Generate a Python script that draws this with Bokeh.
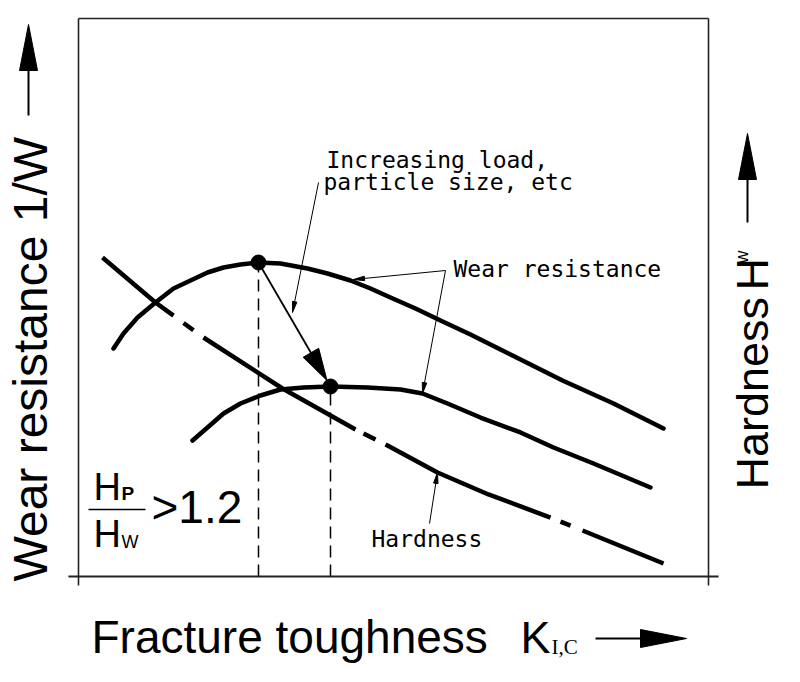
import numpy as np
from bokeh.plotting import figure
from bokeh.models import Range1d
from bokeh.core.properties import value
from bokeh.embed import file_html
from bokeh.resources import INLINE

# ---------------- data (schematic units: box spans 0..100 on both axes) -------------
wear_hi_x = [5.56, 7.14, 9.37, 12.22, 15.08, 17.78, 20.48, 23.02, 25.71, 28.57, 32.06, 36.35,
             39.52, 43.17, 46.35, 49.52, 53.49, 57.46, 62.22, 66.98, 71.75, 76.83, 84.92, 92.86]
wear_hi_y = [40.86, 43.55, 46.42, 49.10, 51.61, 53.05, 54.48, 55.38, 55.91, 56.27, 56.09, 55.20,
             54.30, 53.05, 51.61, 50.00, 48.03, 45.88, 43.37, 40.68, 37.99, 35.13, 31.00, 26.52]
wear_lo_x = [18.10, 20.48, 23.02, 25.71, 28.89, 32.06, 35.71, 40.00, 45.87, 51.11, 54.60,
             58.57, 63.81, 70.16, 75.40, 81.75, 90.79]
wear_lo_y = [24.37, 26.70, 29.21, 31.00, 32.44, 33.51, 33.87, 34.05, 33.87, 33.51, 32.80,
             31.00, 28.49, 25.81, 23.12, 20.25, 15.95]
hard_x = [3.81, 12.22, 19.84, 32.38, 43.97, 49.05, 56.98, 65.08, 74.92, 92.86]
hard_y = [57.17, 49.10, 42.83, 33.69, 26.34, 23.48, 18.64, 14.70, 10.57, 2.33]
# x-intervals where the (dash-dot) hardness line is drawn
hard_solid = [(3.81, 15.08), (16.67, 18.25), (19.84, 43.97), (45.24, 47.14),
              (48.73, 74.92), (76.51, 78.10), (80.00, 92.86)]
# optimum points (maxima of the two wear-resistance curves)
opt_x = [28.57, 40.00]
opt_y = [56.27, 34.05]

# box / axes extents
box_x = [0, 100]
box_y = [0, 100]

# labels
y_label = "Wear resistance 1/W"
y2_label = "Hardness"
y2_sym, y2_sub = "H", "w"
x_label = "Fracture toughness"
x_sym, x_sub = "K", "I,C"
ann_increase = ["Increasing load,", "particle size, etc"]
ann_wear = "Wear resistance"
ann_hard = "Hardness"
ratio_top, ratio_top_sub = "H", "P"
ratio_bot, ratio_bot_sub = "H", "W"
ratio_val = ">1.2"

# ---------------- layout helpers -------------------------------------------------
W, H = 800, 682
SX, SY = 6.3, 5.58           # pixels per unit
LEFT_PX, BOTTOM_PX = 78, 106  # offset of the box origin in the canvas
BASE_K = 0.35                 # baseline correction (fraction of font size)


def px(v):   # pixel offset -> x units
    return v / SX


def py(v):
    return v / SY


p = figure(width=W, height=H, output_backend="svg", toolbar_location=None,
           x_range=Range1d(-LEFT_PX / SX, (W - LEFT_PX) / SX),
           y_range=Range1d(-BOTTOM_PX / SY, (H - BOTTOM_PX) / SY),
           min_border=0, x_axis_location=None, y_axis_location=None,
           outline_line_color=None, background_fill_color="white",
           border_fill_color="white")
p.grid.visible = False

ink = "#000000"
frame_col = "#222222"

# box
ov = 1.6
p.line([box_x[0], box_x[1]], [box_y[1], box_y[1]], line_color=frame_col, line_width=1.6)
p.line([box_x[0], box_x[0]], [box_y[0] - ov, box_y[1]], line_color=frame_col, line_width=1.6)
p.line([box_x[1], box_x[1]], [box_y[0] - ov, box_y[1]], line_color=frame_col, line_width=1.6)
p.line([box_x[0] - ov, box_x[1] + ov], [box_y[0], box_y[0]], line_color=frame_col, line_width=2)

# dashed verticals from optimum points
p.segment(x0=opt_x, y0=[box_y[0]] * 2, x1=opt_x, y1=opt_y, line_color=ink,
          line_width=1.5, line_dash="12 7")

# wear resistance curves
p.line(wear_hi_x, wear_hi_y, line_color=ink, line_width=4.5, line_cap="round", line_join="round")
p.line(wear_lo_x, wear_lo_y, line_color=ink, line_width=4.5, line_cap="round", line_join="round")

# hardness dash-dot line
hx, hy = [], []
for a, b in hard_solid:
    xs = [a] + [x for x in hard_x if a < x < b] + [b]
    hx.append(xs)
    hy.append(list(np.interp(xs, hard_x, hard_y)))
p.multi_line(hx, hy, line_color=ink, line_width=4.5, line_cap="butt", line_join="round")

# optimum dots
p.scatter(opt_x, opt_y, size=15, color=ink)


def arrow_parts(x0, y0, x1, y1, head_len, head_w, shorten=0.0):
    dx, dy = (x1 - x0) * SX, (y1 - y0) * SY
    n = np.hypot(dx, dy)
    ux, uy = dx / n, dy / n
    tx, ty = x1 * SX - ux * shorten, y1 * SY - uy * shorten
    bx, by = tx - ux * head_len, ty - uy * head_len
    nx, ny = -uy, ux
    tri_x = [tx / SX, (bx + nx * head_w / 2) / SX, (bx - nx * head_w / 2) / SX]
    tri_y = [ty / SY, (by + ny * head_w / 2) / SY, (by - ny * head_w / 2) / SY]
    return [x0, bx / SX], [y0, by / SY], tri_x, tri_y


def draw_arrows(specs, lw, head_len, head_w, shorten=0.0):
    sx, sy, tx, ty = [], [], [], []
    for (x0, y0, x1, y1) in specs:
        a, b, c, d = arrow_parts(x0, y0, x1, y1, head_len, head_w, shorten)
        sx.append(a); sy.append(b); tx.append(c); ty.append(d)
    p.multi_line(sx, sy, line_color=ink, line_width=lw)
    p.patches(tx, ty, fill_color=ink, line_color=ink, line_width=1)


# shift of the optimum
draw_arrows([(opt_x[0], opt_y[0], opt_x[1], opt_y[1])], 1.8, 32, 18, shorten=7)

# axis direction arrows
draw_arrows([(px(28 - 78), py(576 - 115), px(28 - 78), py(576 - 24)),
             (px(747 - 78), py(576 - 222), px(747 - 78), py(576 - 133)),
             (px(595 - 78), py(576 - 638), px(686 - 78), py(576 - 638))],
            2, 46, 18)

# leader lines
wear_tag = (px(445 - 78), py(576 - 270))
draw_arrows([(px(318 - 78), py(576 - 182), px(292 - 78), py(576 - 312)),
             (wear_tag[0], wear_tag[1], px(353 - 78), py(576 - 279)),
             (wear_tag[0], wear_tag[1], px(422 - 78), py(576 - 393)),
             (px(429 - 78), py(576 - 523), px(437 - 78), py(576 - 472))],
            1, 11, 4.5)

big = value("Liberation Sans")
mono = value("DejaVu Sans Mono")


def txt(x, y, s, size, font=big, angle=0.0, style="normal"):
    # x, y: page pixel position of the text baseline start
    shift = BASE_K * size
    if angle == 0.0:
        xx, yy = px(x - LEFT_PX), py(576 - y + shift)
    else:
        xx, yy = px(x - LEFT_PX - shift), py(576 - y)
    p.text(x=[xx], y=[yy], text=[s], text_font=font, text_font_size=f"{size}px",
           angle=angle, text_baseline="alphabetic", text_align="left",
           text_color=ink, text_font_style=style)


# axis titles
txt(47, 581, y_label, 48, angle=np.pi / 2)
txt(768, 489, y2_label, 45, angle=np.pi / 2)
txt(768, 290, y2_sym, 45, angle=np.pi / 2)
txt(748, 263, y2_sub, 18, angle=np.pi / 2)
txt(91, 653, x_label, 46)
txt(520, 653, x_sym, 45)
txt(551, 654, x_sub, 21, font=value("Liberation Serif"))

# annotations
txt(326, 168, ann_increase[0], 23, font=mono)
txt(323, 190, ann_increase[1], 23, font=mono)
txt(453, 277, ann_wear, 23, font=mono)
txt(371, 547, ann_hard, 23, font=mono)

# hardness ratio
txt(93, 500, ratio_top, 38)
txt(121, 500, ratio_top_sub, 19, style="bold")
p.line([px(88 - 78), px(145 - 78)], [py(576 - 509)] * 2, line_color=ink, line_width=1.5)
txt(93, 547, ratio_bot, 38)
txt(121, 548, ratio_bot_sub, 18)
txt(151, 523, ratio_val, 46)

open("out.html", "w").write(file_html(p, INLINE))
